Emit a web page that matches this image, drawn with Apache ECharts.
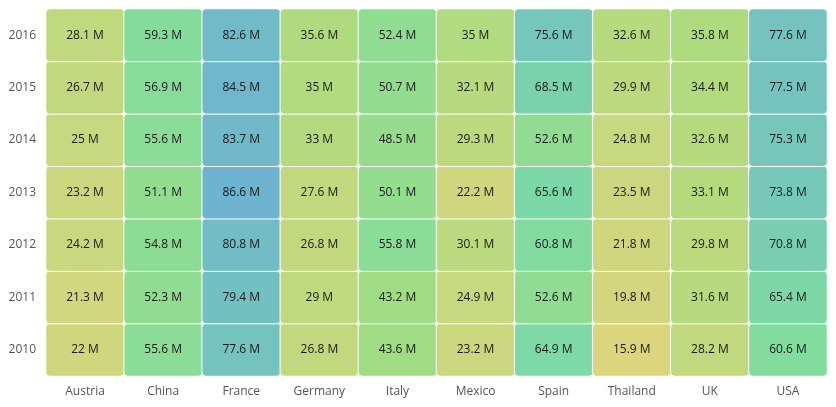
<!DOCTYPE html>
<html>
<head>
<meta charset="utf-8">
<script src="https://cdn.jsdelivr.net/npm/echarts@6/dist/echarts.min.js"></script>
<style>html,body{margin:0;padding:0;background:#fff}#c{width:836px;height:407px}</style>
</head>
<body>
<div id="c"></div>
<script>
const countries = ['Austria','China','France','Germany','Italy','Mexico','Spain','Thailand','UK','USA'];
const years = ['2010','2011','2012','2013','2014','2015','2016'];
// values per country, 2010..2016 (millions)
const austria  = [22, 21.3, 24.2, 23.2, 25, 26.7, 28.1];
const china    = [55.6, 52.3, 54.8, 51.1, 55.6, 56.9, 59.3];
const france   = [77.6, 79.4, 80.8, 86.6, 83.7, 84.5, 82.6];
const germany  = [26.8, 29, 26.8, 27.6, 33, 35, 35.6];
const italy    = [43.6, 43.2, 55.8, 50.1, 48.5, 50.7, 52.4];
const mexico   = [23.2, 24.9, 30.1, 22.2, 29.3, 32.1, 35];
const spain    = [64.9, 52.6, 60.8, 65.6, 52.6, 68.5, 75.6];
const thailand = [15.9, 19.8, 21.8, 23.5, 24.8, 29.9, 32.6];
const uk       = [28.2, 31.6, 29.8, 33.1, 32.6, 34.4, 35.8];
const usa      = [60.6, 65.4, 70.8, 73.8, 75.3, 77.5, 77.6];
const seriesValues = [austria, china, france, germany, italy, mexico, spain, thailand, uk, usa];

const data = [];
seriesValues.forEach((arr, ci) => arr.forEach((v, yi) => data.push([ci, yi, v])));

const chart = echarts.init(document.getElementById('c'));
const font = '"Open Sans", "Noto Sans", sans-serif';
chart.setOption({
  animation: false,
  textStyle: { fontFamily: font },
  grid: { left: 46, right: 9, top: 9, bottom: 31 },
  xAxis: {
    type: 'category', data: countries,
    axisLine: { show: false }, axisTick: { show: false }, splitLine: { show: false },
    axisLabel: { color: '#555', fontSize: 12, margin: 10, fontFamily: font }
  },
  yAxis: {
    type: 'category', data: years,
    axisLine: { show: false }, axisTick: { show: false }, splitLine: { show: false },
    axisLabel: { color: '#555', fontSize: 12, margin: 10, fontFamily: font }
  },
  visualMap: {
    show: false, type: 'continuous', min: 15.9, max: 86.6, dimension: 2,
    inRange: { color: ['#DCD57E', '#A6DC7E', '#7EDCA2', '#6EB3D0'] }
  },
  series: [{
    type: 'heatmap',
    data: data,
    itemStyle: { borderColor: '#fff', borderWidth: 1, borderRadius: 4 },
    label: {
      show: true, color: '#1a1a1a', fontSize: 12, fontFamily: font,
      formatter: p => p.value[2] + ' M'
    },
    emphasis: { disabled: true }
  }]
});
</script>
</body>
</html>
